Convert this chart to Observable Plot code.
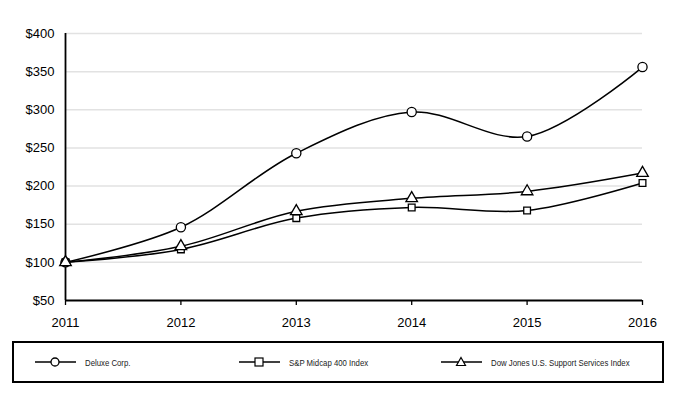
<!DOCTYPE html>
<html>
<head>
<meta charset="utf-8">
<script src="https://cdn.jsdelivr.net/npm/d3@7"></script>
<script src="https://cdn.jsdelivr.net/npm/@observablehq/plot@0.6"></script>
<style>
  body { margin: 0; background: #fff; font-family: Arial, "Liberation Sans", sans-serif; }
  #wrap { position: relative; width: 676px; height: 396px; }
  #legend { position: absolute; left: 12px; top: 341px; width: 648px; height: 38px; border: 2px solid #000; box-sizing: content-box; }
  .item { position: absolute; top: 0; height: 38px; display: flex; align-items: center; font-family: "Liberation Sans", Arial, sans-serif; font-size: 9.5px; color: #222; white-space: nowrap; }
  .item svg { margin-right: 9px; flex: none; }
  .item span { display: inline-block; transform: scaleX(0.82); transform-origin: left center; }
</style>
</head>
<body>
<div id="wrap">
  <div id="chart"></div>
  <div id="legend"></div>
</div>
<script>
const years = [2011, 2012, 2013, 2014, 2015, 2016];
const seriesNames = ["Deluxe Corp.", "S&P Midcap 400 Index", "Dow Jones U.S. Support Services Index"];
const deluxe = [100, 146, 243, 297, 265, 356];
const spMidcap = [100, 117, 158, 172, 168, 204];
const dowJones = [100, 121, 167, 184, 193, 217];
const yTicks = [50, 100, 150, 200, 250, 300, 350, 400];
const symbols = ["circle", "square", "triangle"];

const valuesList = [deluxe, spMidcap, dowJones];
const data = [];
seriesNames.forEach((name, i) => {
  years.forEach((yr, j) => data.push({series: name, year: yr, value: valuesList[i][j], symbol: symbols[i]}));
});

const chart = Plot.plot({
  width: 676,
  height: 340,
  marginLeft: 65,
  marginRight: 34,
  marginTop: 33,
  marginBottom: 40,
  style: { fontFamily: "Arial, 'Liberation Sans', sans-serif", fontSize: "13px", color: "#000", background: "#fff" },
  x: { domain: [2011, 2016], ticks: years, tickFormat: d => String(d), label: null },
  y: { domain: [50, 400], ticks: yTicks, tickFormat: d => "$" + d, label: null },
  marks: [
    Plot.ruleY(yTicks.filter(d => d > 50), { stroke: "#e2e2e2", strokeWidth: 1.5 }),
    Plot.axisY({ ticks: yTicks, tickSize: 0, tickPadding: 11, tickFormat: d => "$" + d, fontSize: 13, label: null }),
    Plot.axisX({ ticks: years, tickSize: 5, tickPadding: 12, tickFormat: d => String(d), fontSize: 13, label: null, strokeWidth: 1.3 }),
    Plot.ruleY([50], { stroke: "#000", strokeWidth: 1.8 }),
    Plot.ruleX([2011], { stroke: "#000", strokeWidth: 1.8 }),
    Plot.line(data, { x: "year", y: "value", z: "series", curve: "catmull-rom", stroke: "#000", strokeWidth: 1.5 }),
    Plot.dot(data.filter(d => d.symbol === "circle"), { x: "year", y: "value", symbol: "circle", r: 4.6, fill: "#fff", stroke: "#000", strokeWidth: 1.3 }),
    Plot.dot(data.filter(d => d.symbol === "square"), { x: "year", y: "value", symbol: "square", r: 3.8, fill: "#fff", stroke: "#000", strokeWidth: 1.3 }),
    Plot.dot(data.filter(d => d.symbol === "triangle"), { x: "year", y: "value", symbol: "triangle", r: 4.3, fill: "#fff", stroke: "#000", strokeWidth: 1.3 })
  ]
});
document.getElementById("chart").appendChild(chart);

// Legend
const legend = document.getElementById("legend");
const lefts = [21, 225, 427];
const shapes = {
  circle: '<circle cx="20" cy="6" r="4" fill="#fff" stroke="#000" stroke-width="1.3"/>',
  square: '<rect x="16" y="2" width="8" height="8" fill="#fff" stroke="#000" stroke-width="1.2"/>',
  triangle: '<path d="M20,1.5 L24.5,9.5 L15.5,9.5 Z" fill="#fff" stroke="#000" stroke-width="1.2"/>'
};
seriesNames.forEach((name, i) => {
  const div = document.createElement("div");
  div.className = "item";
  div.style.left = lefts[i] + "px";
  div.innerHTML = `<svg width="41" height="12"><line x1="0" x2="41" y1="6" y2="6" stroke="#000" stroke-width="1.5"/>${shapes[symbols[i]]}</svg>`;
  const span = document.createElement("span");
  span.textContent = name;
  div.appendChild(span);
  legend.appendChild(div);
});
</script>
</body>
</html>
